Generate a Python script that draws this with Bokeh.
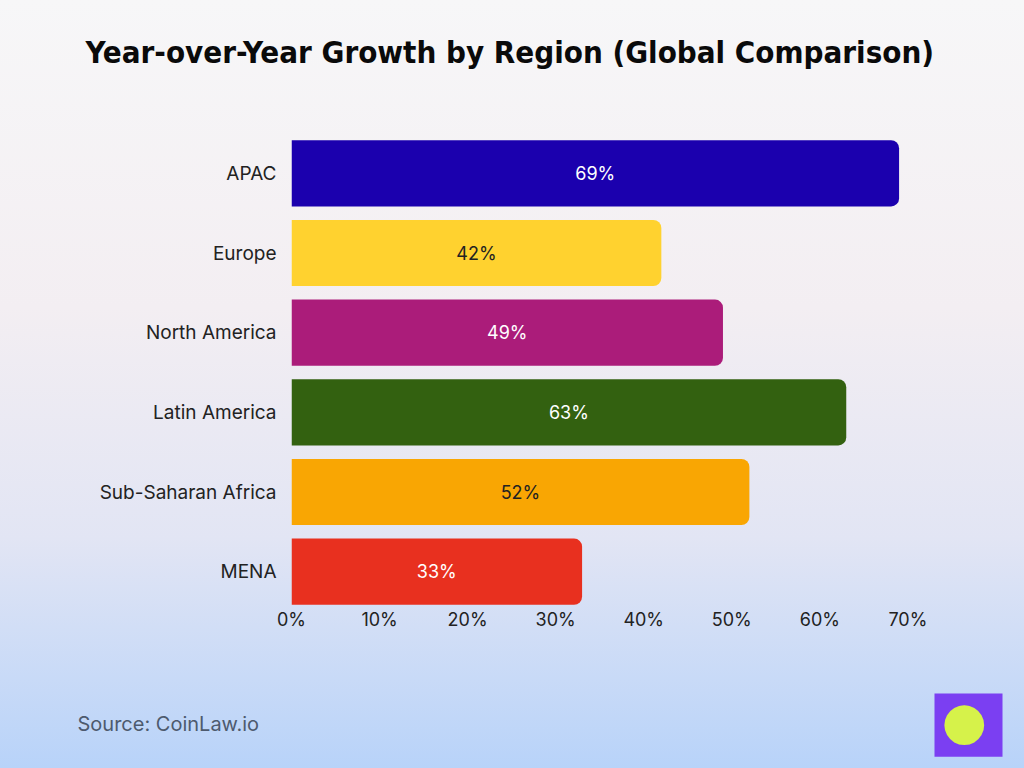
from bokeh.plotting import figure
from bokeh.models import ColumnDataSource, FactorRange, PrintfTickFormatter, FixedTicker, Title
from bokeh.embed import file_html
from bokeh.resources import INLINE

regions = ["APAC", "Europe", "North America", "Latin America", "Sub-Saharan Africa", "MENA"]
growth = [69, 42, 49, 63, 52, 33]
bar_colors = ["#1b00ae", "#ffd22f", "#ab1c7a", "#336110", "#f9a603", "#e8301f"]
label_colors = ["#ffffff", "#222222", "#ffffff", "#ffffff", "#222222", "#ffffff"]
x_ticks = [0, 10, 20, 30, 40, 50, 60, 70]

src = ColumnDataSource(dict(
    region=regions,
    growth=growth,
    color=bar_colors,
    lcolor=label_colors,
    mid=[g / 2 for g in growth],
    txt=[f"{g}%" for g in growth],
))

FL, FR, FT, FB = 291, 99, 133, 157  # frame borders
p = figure(
    width=1024, height=768,
    y_range=FactorRange(*list(reversed(regions))),
    x_range=(0, 72),
    output_backend="svg", toolbar_location=None,
    min_border_left=FL, min_border_right=FR, min_border_top=FT, min_border_bottom=FB,
)
p.styles = {"background": "linear-gradient(180deg, #f7f7f8 0%, #f3eef2 40%, #e2e5f4 70%, #b8d3f9 100%)"}
p.border_fill_alpha = 0
p.background_fill_alpha = 0
p.outline_line_color = None
p.grid.grid_line_color = None

p.hbar(y="region", right="growth", left=0, height=0.83, source=src,
       fill_color="color", line_color=None, border_radius=(0, 8, 8, 0))
p.text(x="mid", y="region", text="txt", source=src, text_color="lcolor",
       text_align="center", text_baseline="middle", text_font_size="18px",
       text_font={"value": "Inter"})

p.xaxis.ticker = FixedTicker(ticks=x_ticks)
p.xaxis.formatter = PrintfTickFormatter(format="%d%%")
for ax in (p.xaxis[0], p.yaxis[0]):
    ax.axis_line_color = None
    ax.major_tick_line_color = None
    ax.minor_tick_line_color = None
    ax.major_label_text_font = "Inter"
    ax.major_label_text_color = "#222222"
p.xaxis.major_label_text_font_size = "18px"
p.yaxis.major_label_text_font_size = "19px"
p.xaxis.major_label_standoff = -9
p.yaxis.major_label_standoff = 9

p.title = Title(text="Year-over-Year Growth by Region (Global Comparison)\n\u00a0",
                align="left", offset=-206,
                text_font="DejaVu Sans Condensed", text_font_style="bold",
                text_font_size="31px", text_color="#0a0a0a", standoff=55)
p.add_layout(Title(text="\u00a0\n\u00a0\nSource: CoinLaw.io", align="left", offset=-214,
                   text_font="Inter", text_font_size="20px", text_color="#4d5a6e",
                   text_font_style="normal", standoff=58), "below")
# logo mark in the right border
p.add_layout(Title(text="●", align="left", offset=560, standoff=18,
                   text_font="DejaVu Sans", text_font_size="52px", text_color="#d6f24a",
                   background_fill_color="#7b3ff2", padding=(9, 4)), "right")

with open("out.html", "w") as f:
    f.write(file_html(p, INLINE))
